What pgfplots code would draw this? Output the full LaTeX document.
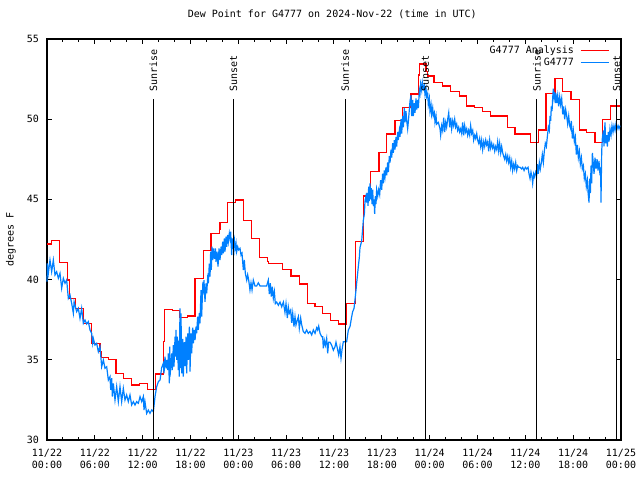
\documentclass[border=0pt]{standalone}
\usepackage{pgfplots}
\pgfplotsset{compat=1.18}
\usepackage{fontspec}
\setmainfont{DejaVu Sans Mono}
\definecolor{obsblue}{RGB}{0,128,255}
\begin{document}
\begin{tikzpicture}[font=\fontsize{10bp}{12bp}\selectfont]
\useasboundingbox (0,0) rectangle (640bp,480bp);
\begin{axis}[
  at={(47bp,40bp)}, anchor=south west,
  scale only axis, width=574bp, height=401bp,
  xmin=0, xmax=72, ymin=30, ymax=55,
  clip=false,
  axis line style={line width=1.1bp, black},
  every tick/.style={black, line width=1bp},
  tick align=inside,
  major tick length=5bp, minor tick length=3bp,
  xtick={0,6,...,72},
  xticklabels={{11/22\\00:00},{11/22\\06:00},{11/22\\12:00},{11/22\\18:00},{11/23\\00:00},{11/23\\06:00},{11/23\\12:00},{11/23\\18:00},{11/24\\00:00},{11/24\\06:00},{11/24\\12:00},{11/24\\18:00},{11/25\\00:00}},
  minor x tick num=2,
  ytick={30,35,...,55},
  /pgf/number format/assume math mode=true,
  xticklabel style={align=center, inner sep=0pt, anchor=north, yshift=-9bp},
  yticklabel style={anchor=east, inner sep=0pt, xshift=-8bp},
  ylabel={degrees F},
  ylabel style={at={(axis description cs:-0.0627,0.5)}, anchor=center},
  title={Dew Point for G4777 on 2024-Nov-22 (time in UTC)},
  title style={at={(axis description cs:0.497,1)}, anchor=base, yshift=16bp, inner sep=0pt},
  legend plot pos=right,
  legend cell align=right,
  legend image code/.code={\draw[#1, line width=1.3bp] (0bp,0bp) -- (28bp,0bp);},
  legend style={draw=none, fill=none, at={(axis description cs:1,1)}, anchor=north east,
    xshift=-11.5bp, yshift=-5bp, inner sep=0pt,
    row sep=-1.2bp,
    /tikz/every odd column/.style={column sep=4bp}},
]
\addplot[red, line width=1.2bp, const plot,
  legend image code/.code={\draw[red, line width=1.3bp] (0bp,0bp) -- (28bp,0bp);}] coordinates {
(0,42.22) (0.59,42.43) (1.55,41.08) (2.55,39.97) (2.8,38.83) (3.6,38.21) (4.56,37.27)
(5.6,36.03) (6.65,35.5) (6.86,35.15) (7.7,35.03) (8.66,34.16) (9.57,33.84) (10.6,33.43)
(11.58,33.53) (12.58,33.15) (13.65,34.11) (14.59,36.13) (14.72,38.15) (15.7,38.06)
(16.6,37.65) (17.6,37.73) (18.56,40.08) (19.61,41.8) (20.57,42.89) (21.61,43.13)
(21.7,43.55) (22.62,44.82) (23.6,44.96) (24.63,43.67) (25.65,42.57) (26.63,41.39)
(27.64,41.15) (27.8,41.02) (29.56,40.64) (30.61,40.22) (31.65,39.73) (32.65,38.52)
(33.62,38.31) (34.58,37.9) (35.59,37.44) (36.54,37.23) (37.6,38.52) (38.65,42.36)
(39.68,45.21) (40.6,46.73) (41.65,47.94) (42.61,49.08) (43.65,49.91) (44.61,50.74)
(45.66,51.57) (46.58,52.76) (46.7,53.44) (47.54,52.95) (47.7,52.69) (48.54,52.3)
(49.63,52.07) (50.64,51.72) (51.72,51.45) (52.65,50.82) (53.6,50.74) (54.65,50.47)
(55.66,50.2) (57.74,49.49) (58.7,49.08) (60.6,48.54) (61.63,49.33) (62.59,51.61)
(63.72,52.55) (64.69,51.72) (65.73,51.24) (66.77,49.33) (67.7,49.16) (68.74,48.54)
(69.71,49.99) (70.71,50.82) (71.9,50.82)
};
\addlegendentry{G4777 Analysis}
\addplot[obsblue, line width=1.2bp] coordinates {
(0.00,39.87) (0.04,41.01) (0.167,40.39) (0.376,41.22) (0.585,40.49) (0.795,41.22)
(1.004,40.29) (1.213,40.49) (1.422,40.08) (1.631,40.39) (1.84,39.46) (2.049,40.08)
(2.258,39.77) (2.467,39.98) (2.676,38.83) (2.885,39.04) (3.094,38.52) (3.303,37.9)
(3.40,38.62) (3.512,38.41) (3.721,38.0) (3.93,38.21) (4.139,37.58) (4.349,38.21)
(4.558,37.27) (4.767,37.48) (4.976,37.23) (5.185,37.38) (5.394,36.86) (5.603,36.65)
(5.73,36.03) (5.812,36.33) (6.021,35.92) (6.23,36.03) (6.439,35.51) (6.648,35.82)
(6.857,34.57) (7.066,34.99) (7.275,34.47) (7.485,34.57) (7.694,33.74) (7.903,33.95)
(7.99,33.12) (8.112,33.85) (8.20,32.7) (8.321,33.53) (8.53,32.49) (8.739,33.33)
(8.948,32.39) (9.157,33.33) (9.366,32.39) (9.575,33.22) (9.784,32.49) (9.993,32.81)
(10.2,32.39) (10.41,32.81) (10.62,32.18) (10.83,32.39) (11.04,32.18) (11.25,32.39)
(11.46,32.29) (11.67,32.7) (11.88,32.39) (12.08,32.70) (12.17,31.87) (12.29,32.39)
(12.5,31.66) (12.71,31.87) (12.92,31.66) (13.13,31.87) (13.34,31.76) (13.55,32.70)
(13.76,33.33) (13.97,33.64) (14.18,33.74)
(14.38,34.5) (14.59,34.78) (14.68,34.16) (14.8,35.2) (14.93,34.47) (15.01,34.99)
(15.14,34.36) (15.22,35.4) (15.35,33.53) (15.39,35.82) (15.43,33.95) (15.64,35.4)
(15.72,34.36) (15.85,35.92) (15.93,34.57) (16.06,36.44) (16.14,35.2) (16.18,36.86)
(16.27,35.0) (16.35,36.44) (16.47,34.36) (16.56,36.2) (16.6,33.95) (16.68,38.2)
(16.72,34.5) (16.81,37.9) (16.89,34.16) (17.02,36.3) (17.1,33.95) (17.23,36.1)
(17.31,34.6) (17.44,36.44) (17.52,34.16) (17.65,36.65) (17.73,35.0) (17.86,37.07)
(17.94,34.26) (18.06,36.65) (18.15,35.4) (18.27,37.0) (18.36,36.03) (18.48,36.86)
(18.57,36.23) (18.69,37.07) (18.77,36.65) (18.9,37.69) (18.98,36.86) (19.11,37.9)
(19.19,37.27) (19.32,39.35) (19.4,37.69) (19.53,39.56) (19.61,39.35) (19.69,39.97)
(19.82,38.62) (19.95,39.77) (20.03,39.14) (20.15,40.08) (20.24,39.77) (20.36,41.0)
(20.45,40.18) (20.53,41.74) (20.61,40.6) (20.7,42.05) (20.78,41.22) (20.87,41.95)
(21.0,41.3) (21.12,41.95) (21.2,41.1) (21.33,41.74) (21.45,40.81) (21.58,41.95)
(21.7,41.22) (21.83,42.05) (21.91,41.53) (22.04,42.37) (22.12,41.64) (22.25,42.57)
(22.33,41.74) (22.45,42.68) (22.54,42.05) (22.66,42.78) (22.75,42.37) (22.87,42.88)
(22.96,42.57) (23.04,42.99) (23.16,41.53) (23.25,42.57) (23.37,42.05) (23.5,42.47)
(23.58,41.85) (23.71,42.26) (23.79,41.74) (23.92,42.05) (24.04,41.85) (24.21,41.95)
(24.34,41.53) (24.46,41.64) (24.63,40.6) (24.75,41.22) (24.88,40.39) (25.05,39.97)
(25.17,40.3) (25.3,39.97)
(25.46,39.35) (25.59,39.8) (25.72,39.35) (25.88,39.97) (26.09,39.6) (26.3,39.6)
(26.51,39.8) (26.72,39.6) (27.14,39.6) (27.55,39.6) (27.76,39.97) (27.89,39.1)
(28.01,39.77) (28.14,38.94) (28.26,39.56) (28.39,38.83) (28.52,39.25) (28.64,38.5)
(28.81,38.6) (29.02,38.4) (29.23,38.6) (29.44,38.3) (29.65,38.6) (29.85,37.95)
(29.98,38.5) (30.15,37.6) (30.27,38.3) (30.4,37.9) (30.57,38.1) (30.69,37.3)
(30.82,37.9) (30.98,37.07) (31.11,37.69) (31.23,37.17) (31.4,37.48) (31.53,37.69)
(31.65,36.96) (31.82,37.6) (31.94,37.2) (32.15,36.76) (32.36,36.65) (32.57,36.86)
(32.78,36.65) (32.99,36.76) (33.2,36.55) (33.41,36.86) (33.62,36.65) (33.83,37.0)
(33.95,36.86) (34.08,37.1) (34.25,36.65) (34.46,36.44) (34.58,36.44) (34.66,35.72)
(34.79,36.2) (34.92,35.9) (35.08,36.34) (35.21,35.4) (35.33,36.1) (35.5,36.1)
(35.71,35.9) (35.92,35.6) (36.13,35.82) (36.25,36.1) (36.42,35.72) (36.59,35.3)
(36.75,35.82) (36.88,35.1) (37.0,35.61) (37.17,36.13) (37.38,36.13) (37.59,36.13)
(37.8,36.86) (38.01,37.07) (38.22,37.69) (38.34,38.0) (38.51,38.2) (38.63,38.73)
(38.76,39.35)
(38.84,39.77) (38.97,40.4) (39.05,40.81) (39.18,41.4) (39.26,42.0) (39.47,42.4)
(39.6,43.2) (39.68,43.7) (39.81,44.1) (39.89,44.9) (40.01,45.2) (40.1,44.8)
(40.18,45.4) (40.27,44.6) (40.35,45.8) (40.43,44.9) (40.52,46.0) (40.6,45.0)
(40.68,45.7) (40.77,44.7) (40.85,45.6) (40.94,44.6) (41.02,45.0) (41.1,44.1)
(41.19,45.2) (41.27,44.7) (41.35,45.6) (41.48,45.2) (41.6,45.6) (41.73,45.3)
(41.85,46.2) (41.98,45.6) (42.1,46.6) (42.19,46.0) (42.31,46.8) (42.4,46.4)
(42.52,47.0) (42.61,46.5) (42.73,47.3) (42.82,46.7) (42.94,47.7) (43.03,47.3)
(43.15,48.1) (43.24,47.6) (43.36,48.5) (43.44,47.9) (43.57,48.7) (43.65,48.1)
(43.78,48.9) (43.86,48.3) (43.99,49.2) (44.07,48.7) (44.2,49.3) (44.28,48.9)
(44.41,50.0) (44.49,49.1) (44.62,50.2) (44.7,49.5) (44.82,50.7) (44.91,49.8)
(45.03,50.5) (45.12,49.9) (45.24,49.4) (45.37,50.1) (45.53,51.1) (45.66,51.5)
(45.74,50.2) (45.87,51.2) (45.95,50.2) (46.08,51.0) (46.16,50.4) (46.29,51.3)
(46.37,50.6) (46.5,51.2) (46.58,50.7) (46.71,51.8) (46.79,51.6) (46.87,52.2)
(47.0,51.8) (47.08,52.3) (47.21,51.9) (47.33,52.1) (47.42,51.5) (47.54,51.9)
(47.63,51.4) (47.75,51.6) (47.83,50.9) (47.96,51.3) (48.04,50.5) (48.17,50.9)
(48.25,50.3) (48.38,50.7) (48.46,50.2) (48.59,50.4) (48.67,49.8) (48.8,50.2)
(48.88,49.7) (49.09,49.8) (49.3,49.4)
(49.38,49.0) (49.51,49.6) (49.63,49.3) (49.76,50.1) (49.88,49.2) (50.01,49.8)
(50.13,49.5) (50.26,50.0) (50.39,50.4) (50.51,49.5) (50.64,50.1) (50.76,49.4)
(50.89,49.9) (51.01,49.6) (51.14,50.0) (51.26,49.5) (51.39,49.7) (51.51,49.3)
(51.64,49.5) (51.76,49.2) (51.89,49.4) (52.02,49.1) (52.14,49.8) (52.27,49.0)
(52.39,49.6) (52.52,49.2) (52.64,49.4) (52.77,49.0) (52.89,49.3) (53.02,49.0)
(53.14,49.6) (53.27,49.1) (53.4,49.3) (53.52,48.7) (53.65,49.0) (53.77,48.8)
(53.9,49.1) (54.02,48.7) (54.15,48.5) (54.27,48.8) (54.4,48.3) (54.52,48.7)
(54.65,48.1) (54.78,48.6) (54.9,48.3) (55.03,48.7) (55.15,48.4) (55.28,48.6)
(55.4,48.0) (55.53,48.7) (55.65,48.2) (55.78,48.5) (55.9,48.2) (56.03,48.4)
(56.16,48.0) (56.28,48.3) (56.41,48.1) (56.53,48.6) (56.66,48.0) (56.78,48.5)
(56.91,47.9) (57.03,48.3) (57.16,47.9) (57.28,47.7) (57.41,47.5) (57.54,47.8)
(57.66,47.4) (57.79,47.7) (57.91,47.3) (58.04,47.6) (58.16,47.0) (58.29,47.4)
(58.41,46.8) (58.54,47.2) (58.66,46.9) (58.79,47.3) (58.92,46.8) (59.04,47.1)
(59.17,47.0) (59.33,47.0) (59.54,46.9) (59.67,47.0) (59.84,46.8) (60.0,47.0)
(60.17,46.9) (60.34,47.0) (60.46,46.6) (60.59,46.3) (60.71,46.7) (60.84,46.4)
(60.92,46.0) (61.05,46.6) (61.17,46.4) (61.3,46.7) (61.42,46.5) (61.51,47.2)
(61.63,46.6) (61.76,47.3) (61.88,46.9) (62.01,47.3) (62.13,47.8) (62.26,47.3)
(62.38,48.0) (62.51,48.5) (62.64,48.3) (62.76,48.9) (62.89,49.5) (63.01,49.3)
(63.1,50.2) (63.18,49.9) (63.26,50.8) (63.35,50.5) (63.43,51.3) (63.51,51.9)
(63.6,51.4) (63.68,51.7) (63.76,51.0) (63.85,51.6) (63.93,51.0) (64.06,51.5)
(64.18,50.8) (64.31,51.4) (64.43,50.9) (64.56,51.3) (64.69,50.3) (64.81,50.8)
(64.94,50.0) (65.06,50.6) (65.19,50.2) (65.31,49.7) (65.44,50.2) (65.56,49.6)
(65.69,49.4) (65.77,49.9) (65.9,48.8) (66.02,49.3) (66.15,48.6) (66.27,48.9)
(66.4,47.8) (66.53,48.4) (66.65,47.6) (66.78,48.0) (66.9,47.2) (67.03,47.6)
(67.15,46.9) (67.28,47.1) (67.4,46.3) (67.53,46.6) (67.65,45.8) (67.78,46.2)
(67.86,45.5) (67.95,45.0) (67.99,44.8) (68.07,46.3) (68.16,45.4) (68.24,47.1)
(68.32,46.0) (68.41,47.9) (68.53,47.2) (68.62,46.6) (68.74,47.6) (68.87,46.9)
(69.0,47.5) (69.12,46.8) (69.24,47.4) (69.37,46.5) (69.45,47.0) (69.49,44.8)
(69.58,48.0) (69.66,48.8) (69.79,49.3) (69.87,48.3) (69.99,49.8) (70.08,48.5)
(70.2,49.0) (70.29,48.3) (70.41,49.2) (70.5,48.6) (70.62,49.4) (70.75,49.0)
(70.87,49.6) (71.0,49.2) (71.12,49.6) (71.25,49.3) (71.37,49.7) (71.5,49.4)
(71.63,49.6) (71.75,49.4) (71.88,49.6)
};
\addlegendentry{G4777}
\addplot[black, line width=1.1bp, forget plot] coordinates {(13.34,30) (13.34,51.24)};
\addplot[black, line width=1.1bp, forget plot] coordinates {(23.38,30) (23.38,51.24)};
\addplot[black, line width=1.1bp, forget plot] coordinates {(37.39,30) (37.39,51.24)};
\addplot[black, line width=1.1bp, forget plot] coordinates {(47.43,30) (47.43,51.24)};
\addplot[black, line width=1.1bp, forget plot] coordinates {(61.44,30) (61.44,51.24)};
\addplot[black, line width=1.1bp, forget plot] coordinates {(71.48,30) (71.48,51.24)};
\node[rotate=90, anchor=west, inner sep=0pt] at (axis cs:13.34,51.71) {Sunrise};
\node[rotate=90, anchor=west, inner sep=0pt] at (axis cs:23.38,51.71) {Sunset};
\node[rotate=90, anchor=west, inner sep=0pt] at (axis cs:37.39,51.71) {Sunrise};
\node[rotate=90, anchor=west, inner sep=0pt] at (axis cs:47.43,51.71) {Sunset};
\node[rotate=90, anchor=west, inner sep=0pt] at (axis cs:61.44,51.71) {Sunrise};
\node[rotate=90, anchor=west, inner sep=0pt] at (axis cs:71.48,51.71) {Sunset};
\end{axis}
\end{tikzpicture}
\end{document}
